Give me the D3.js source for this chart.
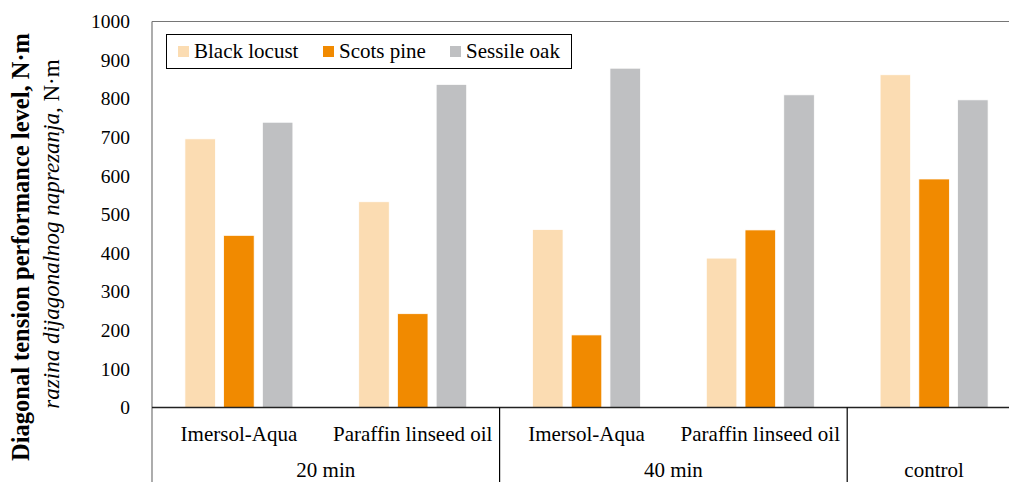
<!DOCTYPE html>
<html>
<head>
<meta charset="utf-8">
<script src="https://cdn.jsdelivr.net/npm/d3@7"></script>
<style>
  html, body { margin: 0; padding: 0; background: #fff; }
  svg { display: block; }
  svg text { font-family: "Liberation Serif", "Times New Roman", serif; fill: #000; }
</style>
</head>
<body>
<svg id="chart" width="1009" height="482"></svg>
<script>
// ---- data ----
const groups = ["20 min", "40 min", "control"];
const categories = ["Imersol-Aqua", "Paraffin linseed oil", "Imersol-Aqua", "Paraffin linseed oil", ""];
const categoryGroup = [0, 0, 1, 1, 2];
const seriesNames = ["Black locust", "Scots pine", "Sessile oak"];
const blackLocust = [696, 533, 461, 387, 862];
const scotsPine   = [446, 243, 188, 460, 592];
const sessileOak  = [739, 837, 879, 810, 797];
const seriesColors = ["#FBDCB2", "#F18A00", "#BFC0C2"];
const yTicks = [0, 100, 200, 300, 400, 500, 600, 700, 800, 900, 1000];

const series = [blackLocust, scotsPine, sessileOak];

const svg = d3.select("#chart");
const pLeft = 152, pRight = 1021, pTop = 21.5, pBottom = 407.5;

const x = d3.scaleBand().domain(d3.range(categories.length)).range([pLeft, pRight]).paddingInner(0).paddingOuter(0);
const xs = d3.scaleBand().domain(d3.range(series.length)).range([0, x.bandwidth()]).paddingInner(0.212).paddingOuter(0.85);
const y = d3.scaleLinear().domain([0, 1000]).range([pBottom, pTop]);

// bars
series.forEach((vals, si) => {
  svg.append("g").selectAll("rect").data(vals).join("rect")
    .attr("x", (d, i) => x(i) + xs(si))
    .attr("y", d => y(d))
    .attr("width", xs.bandwidth())
    .attr("height", d => y(0) - y(d))
    .attr("fill", seriesColors[si])
    .attr("stroke", "#ffffff")
    .attr("stroke-width", 0.75);
});

// frame: top & left border
svg.append("line").attr("x1", pLeft).attr("x2", 1009).attr("y1", pTop).attr("y2", pTop)
  .attr("stroke", "#767676").attr("stroke-width", 1.2);
svg.append("line").attr("x1", pLeft).attr("x2", pLeft).attr("y1", pTop).attr("y2", 482)
  .attr("stroke", "#767676").attr("stroke-width", 1.2);

// y axis labels
const yAxis = d3.axisLeft(y).tickValues(yTicks).tickSize(0).tickPadding(22).tickFormat(d3.format("d"));
const yg = svg.append("g").attr("transform", `translate(${pLeft},0)`).call(yAxis);
yg.attr("font-family", null).attr("font-size", null);
yg.select(".domain").remove();
yg.selectAll("text").attr("font-size", 19.5).attr("fill", "#000");

// x axis baseline
svg.append("line").attr("x1", pLeft).attr("x2", 1009).attr("y1", pBottom).attr("y2", pBottom)
  .attr("stroke", "#222").attr("stroke-width", 1.5);

// group separators
const groupBounds = groups.map((g, gi) => {
  const idx = categoryGroup.map((v, i) => v === gi ? i : -1).filter(i => i >= 0);
  return { name: g, x0: x(idx[0]), x1: x(idx[idx.length - 1]) + x.bandwidth() };
});
groupBounds.slice(0, -1).forEach(gb => {
  svg.append("line").attr("x1", gb.x1).attr("x2", gb.x1).attr("y1", pBottom).attr("y2", 482)
    .attr("stroke", "#000").attr("stroke-width", 1.2);
});

// category labels
svg.append("g").selectAll("text").data(categories).join("text")
  .attr("x", (d, i) => x(i) + x.bandwidth() / 2)
  .attr("y", 441)
  .attr("text-anchor", "middle")
  .attr("font-size", 21)
  .text(d => d);

// group labels
svg.append("g").selectAll("text").data(groupBounds).join("text")
  .attr("x", d => d.name === "control" ? x(4) + x.bandwidth() / 2 : (d.x0 + d.x1) / 2)
  .attr("y", 477)
  .attr("text-anchor", "middle")
  .attr("font-size", 21)
  .text(d => d.name);

// legend
const lg = svg.append("g");
lg.append("rect").attr("x", 166.5).attr("y", 34.5).attr("width", 405).attr("height", 34)
  .attr("fill", "#fff").attr("stroke", "#000").attr("stroke-width", 1);
const legendX = [178, 323, 450];
seriesNames.forEach((n, i) => {
  lg.append("rect").attr("x", legendX[i]).attr("y", 46).attr("width", 11).attr("height", 11)
    .attr("fill", seriesColors[i]);
  lg.append("text").attr("x", legendX[i] + 16).attr("y", 58).attr("font-size", 21).text(n);
});

// y axis title
svg.append("text").attr("transform", "translate(29,247) rotate(-90)")
  .attr("text-anchor", "middle").attr("font-size", 24.5).attr("font-weight", "bold")
  .text("Diagonal tension performance level,  N·m");
const t2 = svg.append("text").attr("transform", "translate(59,234) rotate(-90)")
  .attr("text-anchor", "middle").attr("font-size", 23);
t2.append("tspan").attr("font-style", "italic").text("razina dijagonalnog naprezanja,");
t2.append("tspan").text(" N·m");
</script>
</body>
</html>
